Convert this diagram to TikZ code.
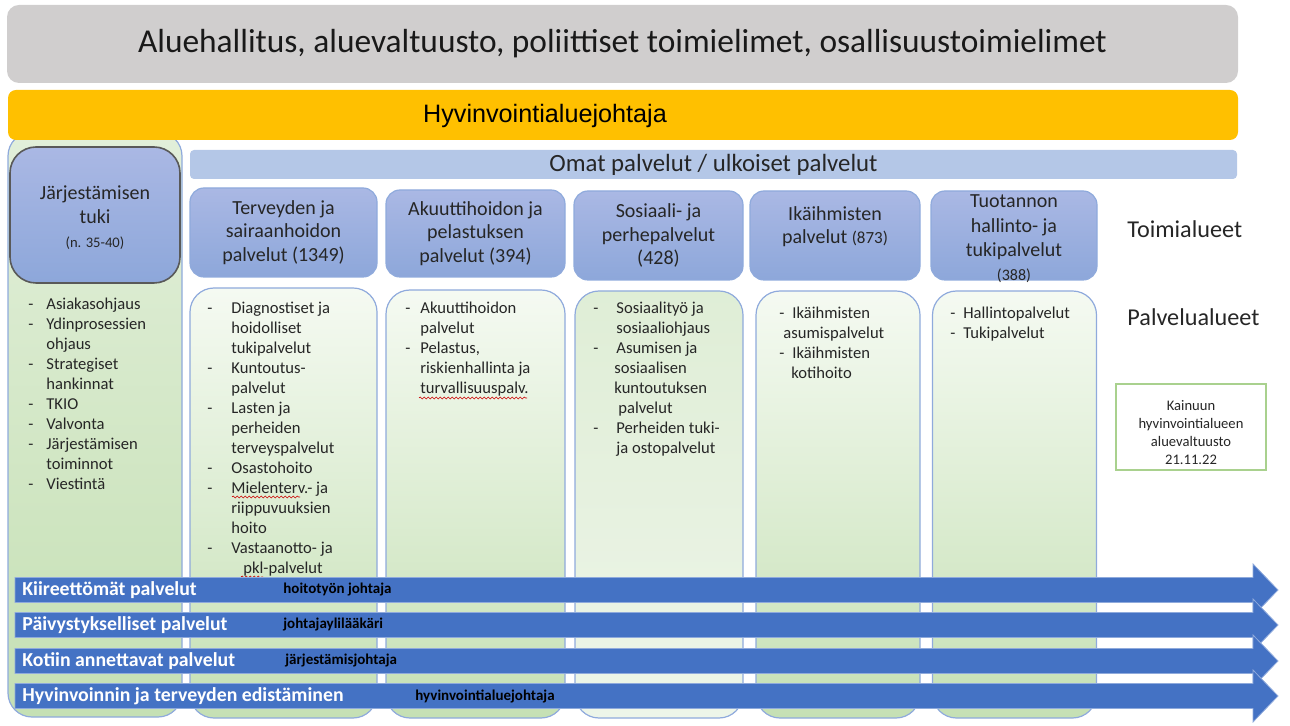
\documentclass[tikz,border=0pt]{standalone}
\usepackage{fontspec}
\setmainfont{Carlito}
\newfontfamily\arialfont{Liberation Sans}
\usetikzlibrary{decorations.pathmorphing}
\definecolor{hallgray}{HTML}{D0CECE}
\definecolor{johtoyellow}{HTML}{FFC000}
\definecolor{omatblue}{HTML}{B4C7E7}
\definecolor{headtop}{HTML}{AAB8E4}
\definecolor{headbot}{HTML}{8DA7DA}
\definecolor{headline}{HTML}{8FAADC}
\definecolor{greentop}{HTML}{F5FAF2}
\definecolor{greenbot}{HTML}{C5E0B4}
\definecolor{greenmid}{HTML}{E2EFDA}
\definecolor{arrowblue}{HTML}{4472C4}
\definecolor{boxgreen}{HTML}{A9D18E}

\tikzset{
  toimiala/.style={draw=headline, line width=0.6pt, top color=headtop, bottom color=headbot, rounded corners=7pt, inner sep=0pt, align=center, text=black!85, font=\fontsize{10}{11.8}\selectfont},
  palvelu/.style={draw=headline, line width=0.6pt, top color=greentop, bottom color=greenbot, rounded corners=12pt, inner sep=0pt},
  lista/.style={anchor=north west, inner sep=0pt, text=black!85, font=\fontsize{8.3}{10}\selectfont},
  virtateksti/.style={anchor=west, inner sep=0pt, text=white, font=\fontsize{9.9}{12}\selectfont\bfseries},
  johtaja/.style={anchor=west, inner sep=0pt, font=\fontsize{7.5}{9}\selectfont\bfseries},
  oikoluku/.style={red!80!black, line width=0.3pt, decorate, decoration={snake, amplitude=0.5pt, segment length=2pt}}
}

\begin{document}
\begin{tikzpicture}[x=0.5pt, y=-0.5pt]
        \useasboundingbox (0,0) rectangle (1290,726);

        \node[fill=hallgray, rounded corners=6pt, minimum width=615.5pt, minimum height=39pt, inner sep=0pt, text=black!90, font=\fontsize{16.7}{20}\selectfont] (hallitus) at (622.5,44) {Aluehallitus, aluevaltuusto, poliittiset toimielimet, osallisuustoimielimet};

        \node[draw=headline, line width=0.6pt, top color=greenmid, bottom color=greenbot, rounded corners=12pt, minimum width=87pt, minimum height=292.5pt, inner sep=0pt] (tukisarake) at (95,424.5) {};

        \node[fill=johtoyellow, rounded corners=4pt, minimum width=615pt, minimum height=25pt, inner sep=0pt] (johto) at (623,115) {};
        \node[inner sep=0pt, font=\arialfont\fontsize{12.6}{15}\selectfont] (johtoteksti) at (545,116) {Hyvinvointialuejohtaja};

        \node[fill=omatblue, rounded corners=2pt, minimum width=523.5pt, minimum height=14.5pt, inner sep=0pt, text=black!85, font=\fontsize{12.4}{15}\selectfont] (omat) at (713.5,164.5) {Omat palvelut / ulkoiset palvelut};

        \node[toimiala, draw=black!65, line width=0.8pt, rounded corners=13pt, minimum width=85pt, minimum height=68pt] (t0) at (95,215) {\raisebox{-4.4pt}[0pt][0pt]{\begin{tabular}{@{}c@{}}Järjestämisen\\tuki\\{\fontsize{7.3}{9}\selectfont(n. 35-40)}\end{tabular}}};
        \node[toimiala, minimum width=93.5pt, minimum height=44.5pt] (t1) at (283.5,232.5) {Terveyden ja\\sairaanhoidon\\palvelut (1349)};
        \node[toimiala, minimum width=89.5pt, minimum height=43.5pt] (t2) at (475.5,233.5) {Akuuttihoidon ja\\pelastuksen\\palvelut (394)};
        \node[toimiala, minimum width=84.5pt, minimum height=44.5pt] (t3) at (658.5,235.5) {Sosiaali- ja\\perhepalvelut\\(428)};
        \node[toimiala, minimum width=85pt, minimum height=44.5pt] (t4) at (835,235.5) {Ikäihmisten\\palvelut {\fontsize{8.5}{10}\selectfont(873)}\\[-5pt]\strut};
        \node[toimiala, font=\fontsize{10}{12.1}\selectfont, minimum width=83pt, minimum height=44.5pt] (t5) at (1014,235.5) {\raisebox{-4.4pt}[0pt][0pt]{\begin{tabular}{@{}c@{}}Tuotannon\\hallinto- ja\\tukipalvelut\\{\fontsize{8}{9}\selectfont(388)}\end{tabular}}};

        \node[palvelu, minimum width=93.5pt, minimum height=215pt] (p1) at (283.5,503) {};
        \node[palvelu, minimum width=89.5pt, minimum height=214pt] (p2) at (475.5,504) {};
        \node[palvelu, top color=greenmid!90!greenbot, bottom color=greenmid!60!white, minimum width=84pt, minimum height=213.5pt] (p3) at (659,504.5) {};
        \node[palvelu, minimum width=82pt, minimum height=213.5pt] (p4) at (838,504.5) {};
        \node[palvelu, minimum width=82pt, minimum height=213.5pt] (p5) at (1014.5,504.5) {};

        \node[lista] (l0) at (28,295) {\begin{tabular}{@{}p{9pt}@{}l@{}}
        - & Asiakasohjaus\\
        - & Ydinprosessien\\
          & ohjaus\\
        - & Strategiset\\
          & hankinnat\\
        - & TKIO\\
        - & Valvonta\\
        - & Järjestämisen\\
          & toiminnot\\
        - & Viestintä
        \end{tabular}};
        \node[lista] (l1) at (207,299) {\begin{tabular}{@{}p{12pt}@{}l@{}}
        - & Diagnostiset ja\\
          & hoidolliset\\
          & tukipalvelut\\
        - & Kuntoutus-\\
          & palvelut\\
        - & Lasten ja\\
          & perheiden\\
          & terveyspalvelut\\
        - & Osastohoito\\
        - & Mielenterv.- ja\\
          & riippuvuuksien\\
          & hoito\\
        - & Vastaanotto- ja\\
          & \hspace*{6pt}pkl-palvelut
        \end{tabular}};
        \node[lista] (l2) at (405,299) {\begin{tabular}{@{}p{7.5pt}@{}l@{}}
        - & Akuuttihoidon\\
          & palvelut\\
        - & Pelastus,\\
          & riskienhallinta ja\\
          & turvallisuuspalv.
        \end{tabular}};
        \node[lista] (l3) at (593,299) {\begin{tabular}{@{}p{11.5pt}@{}l@{}}
        - & Sosiaalityö ja\\
          & sosiaaliohjaus\\
        - & Asumisen ja\\
          & \hspace*{-1pt}sosiaalisen\\
          & \hspace*{-1pt}kuntoutuksen\\
          & \hspace*{1pt}palvelut\\
        - & Perheiden tuki-\\
          & ja ostopalvelut
        \end{tabular}};
        \node[lista] (l4) at (779,304) {\begin{tabular}{@{}p{6.5pt}@{}l@{}}
        - & Ikäihmisten\\
        \multicolumn{2}{@{}l@{}}{\hspace*{2pt}asumispalvelut}\\
        - & Ikäihmisten\\
          & \hspace*{-0.5pt}kotihoito
        \end{tabular}};
        \node[lista] (l5) at (950,304) {\begin{tabular}{@{}p{6.5pt}@{}l@{}}
        - & Hallintopalvelut\\
        - & Tukipalvelut
        \end{tabular}};

        \draw[oikoluku] (419,398) -- (527,398);
        \draw[oikoluku] (232,497) -- (300,497);
        \draw[oikoluku] (241,577) -- (263,577);

        \node[anchor=west, inner sep=0pt, text=black!85, font=\fontsize{12.1}{14}\selectfont] (toimialueet) at (1127,229) {Toimialueet};
        \node[anchor=west, inner sep=0pt, text=black!85, font=\fontsize{12.1}{14}\selectfont] (palvelualueet) at (1127,317) {Palvelualueet};

        \node[draw=boxgreen, line width=0.7pt, fill=white, minimum width=75pt, minimum height=43pt, inner sep=0pt, align=center, text=black!85, font=\fontsize{7.3}{9}\selectfont] (kainuu) at (1191,427) {\strut\\[-5pt]Kainuun\\hyvinvointialueen\\aluevaltuusto\\21.11.22};

        \foreach \y/\otsikko/\xr/\rooli [count=\i] in {590/Kiireettömät palvelut/283/hoitotyön johtaja, 625/Päivystykselliset palvelut/283/johtajaylilääkäri, 661/Kotiin annettavat palvelut/285/järjestämisjohtaja, 696/Hyvinvoinnin ja terveyden edistäminen/415/hyvinvointialuejohtaja}{
          \filldraw[fill=arrowblue, draw=arrowblue!60!white, line width=0.4pt] (15,\y-12.5) -- (1253,\y-12.5) -- (1253,\y-26) -- (1278,\y) -- (1253,\y+26) -- (1253,\y+12.5) -- (15,\y+12.5) -- cycle;
          \node[virtateksti] (v\i) at (22,\y) {\otsikko};
          \node[johtaja] (r\i) at (\xr,\y) {\rooli};
        }

        \end{tikzpicture}
\end{document}
